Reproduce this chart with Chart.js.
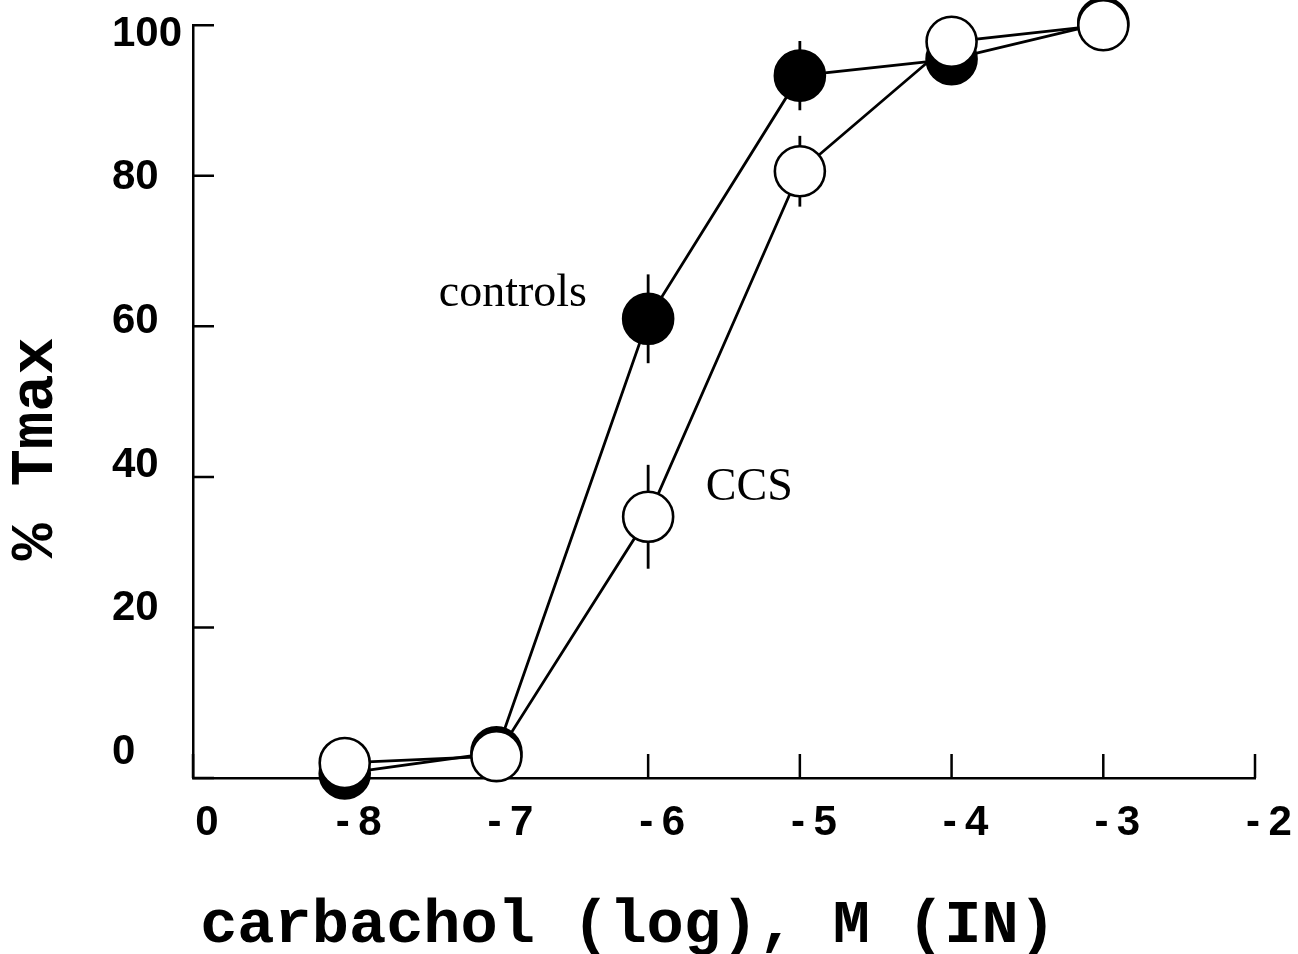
<!DOCTYPE html>
<html>
<head>
<meta charset="utf-8">
<script src="https://cdn.jsdelivr.net/npm/chart.js@4/dist/chart.umd.min.js"></script>
<style>
  html, body { margin: 0; padding: 0; background: #fff; }
  canvas { display: block; }
</style>
</head>
<body>
<canvas id="chart" width="1298" height="954"></canvas>
<script>
// carbachol dose (log M) and % of max tension
const doses = [-8, -7, -6, -5, -4, -3];
const controls = [0.6, 3.4, 61.0, 93.3, 95.5, 100.3];
const controlsErr = [1.5, 1.5, 5.9, 4.6, 2, 1.5];
const ccs = [2.0, 2.9, 34.7, 80.6, 97.8, 100.0];
const ccsErr = [1.5, 1.5, 6.9, 4.7, 2, 1.5];

const xTicks = [-9, -8, -7, -6, -5, -4, -3, -2];
const xTickLabels = ['0', '-\u20098', '-\u20097', '-\u20096', '-\u20095', '-\u20094', '-\u20093', '-\u20092'];
const yTicks = [0, 20, 40, 60, 80, 100];

const notes = ['controls', 'CCS'];
const noteX = [-7.38, -5.62];
const noteY = [62.7, 36.9];
const xTitle = 'carbachol (log), M (IN)';
const yTitle = '% Tmax';

const tickFont = { family: '"Liberation Sans", Arial, sans-serif', size: 42, weight: 'bold', lineHeight: 1.2 };
const titleFont = 'bold 62px "Liberation Mono", "Courier New", monospace';

const toPoints = (vals) => doses.map((d, i) => ({ x: d, y: vals[i] }));

// ticks drawn inside the frame
const innerTicks = {
    id: 'innerTicks',
    beforeDatasetsDraw(chart) {
        const { ctx, chartArea: a, scales: { x, y } } = chart;
        ctx.save();
        ctx.strokeStyle = '#000';
        ctx.lineWidth = 2.5;
        ctx.beginPath();
        x.ticks.forEach(t => {
            const px = x.getPixelForValue(t.value);
            ctx.moveTo(px, a.bottom);
            ctx.lineTo(px, a.bottom - 24);
        });
        y.ticks.forEach(t => {
            const py = y.getPixelForValue(t.value);
            ctx.moveTo(a.left, py);
            ctx.lineTo(a.left + 21, py);
        });
        ctx.stroke();
        ctx.restore();
    }
};

const errorBars = {
    id: 'errorBars',
    beforeDatasetsDraw(chart) {
        const { ctx, scales: { x, y } } = chart;
        ctx.save();
        ctx.strokeStyle = '#000';
        ctx.lineWidth = 2.8;
        chart.data.datasets.forEach(ds => {
            ds.data.forEach((p, i) => {
                const e = ds.errors[i];
                if (!e) return;
                const px = x.getPixelForValue(p.x);
                ctx.beginPath();
                ctx.moveTo(px, y.getPixelForValue(p.y - e));
                ctx.lineTo(px, y.getPixelForValue(p.y + e));
                ctx.stroke();
            });
        });
        ctx.restore();
    }
};

const texts = {
    id: 'texts',
    afterDraw(chart) {
        const { ctx, scales: { x, y } } = chart;
        ctx.save();
        ctx.fillStyle = '#000';
        ctx.textBaseline = 'alphabetic';
        ctx.font = '46px "Liberation Serif", "Times New Roman", serif';
        notes.forEach((n, i) => {
            ctx.fillText(n, x.getPixelForValue(noteX[i]), y.getPixelForValue(noteY[i]));
        });
        ctx.font = titleFont;
        ctx.textAlign = 'center';
        ctx.fillText(xTitle, 628, 942);
        ctx.translate(52, 449);
        ctx.rotate(-Math.PI / 2);
        ctx.fillText(yTitle, 0, 0);
        ctx.restore();
    }
};

const lineStyle = {
    yAxisID: 'y',
    borderColor: '#000',
    borderWidth: 2.8,
    pointBorderColor: '#000',
    pointBorderWidth: 2.6,
    pointRadius: 25,
    pointHoverRadius: 25,
    tension: 0,
    clip: false
};

new Chart(document.getElementById('chart'), {
    type: 'line',
    data: {
        datasets: [{
            ...lineStyle,
            label: 'controls',
            data: toPoints(controls),
            errors: controlsErr,
            pointBackgroundColor: '#000',
            order: 1
        }, {
            ...lineStyle,
            label: 'CCS',
            data: toPoints(ccs),
            errors: ccsErr,
            pointBackgroundColor: '#fff',
            order: 0
        }]
    },
    options: {
        responsive: false,
        animation: false,
        events: [],
        layout: {
            autoPadding: false,
            padding: { left: 112, right: 43, top: 21, bottom: 85.6 }
        },
        plugins: {
            legend: { display: false },
            tooltip: { enabled: false }
        },
        scales: {
            x: {
                type: 'linear',
                min: -9,
                max: -2,
                afterBuildTicks(s) { s.ticks = xTicks.map(v => ({ value: v })); },
                grid: { display: false, drawTicks: false },
                border: { display: true, color: '#000', width: 2.5 },
                ticks: {
                    color: '#000',
                    font: tickFont,
                    padding: 20,
                    labelOffset: 14,
                    maxRotation: 0,
                    autoSkip: false,
                    callback: v => xTickLabels[xTicks.indexOf(v)]
                }
            },
            y: {
                type: 'linear',
                position: 'left',
                weight: 0,
                min: 0,
                max: 100,
                afterBuildTicks(s) { s.ticks = yTicks.map(v => ({ value: v })); },
                grid: { display: false, drawTicks: false },
                border: { display: true, color: '#000', width: 2.5 },
                ticks: { display: false }
            },
            yLabels: {
                type: 'linear',
                position: 'left',
                weight: 1,
                min: -3.6,
                max: 101.25,
                afterBuildTicks(s) { s.ticks = yTicks.map(v => ({ value: v })); },
                afterFit(s) { s.width = 81; },
                grid: { display: false, drawTicks: false },
                border: { display: false },
                ticks: {
                    color: '#000',
                    font: tickFont,
                    padding: 0,
                    crossAlign: 'far'
                }
            }
        }
    },
    plugins: [innerTicks, errorBars, texts]
});
</script>
</body>
</html>
